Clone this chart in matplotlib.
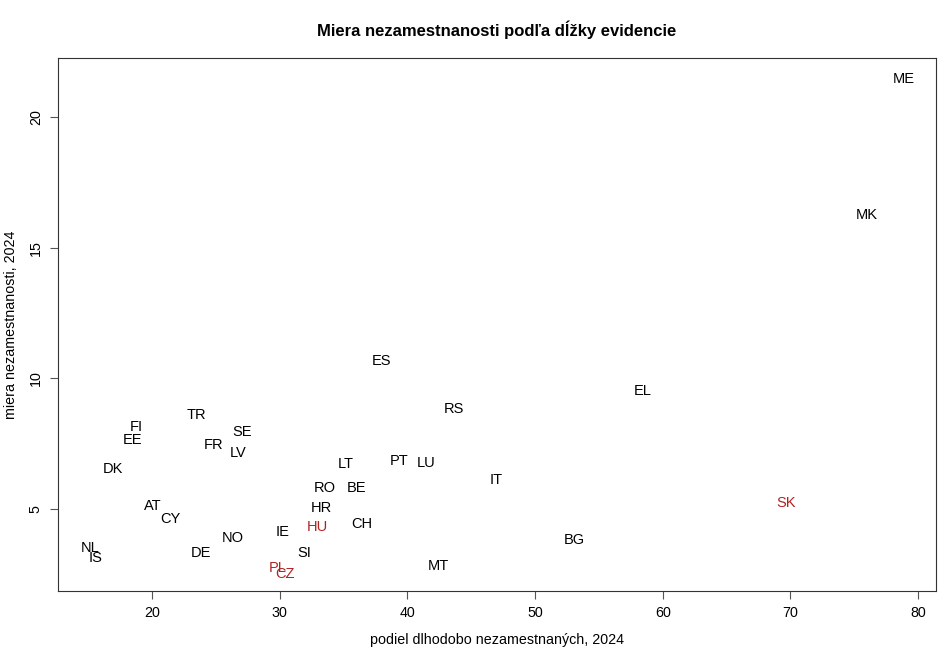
import matplotlib
matplotlib.use("Agg")
import matplotlib.pyplot as plt

plt.rcParams['font.family'] = ['Liberation Sans', 'DejaVu Sans']

# podiel dlhodobo nezamestnaných (x) a miera nezamestnanosti (y), 2024
krajiny = ['ME', 'MK', 'ES', 'EL', 'RS', 'TR', 'SE', 'FI', 'EE', 'FR', 'LV', 'DK',
           'LT', 'PT', 'LU', 'IT', 'RO', 'BE', 'SK', 'AT', 'HR', 'CY', 'CH', 'HU',
           'IE', 'NO', 'BG', 'NL', 'IS', 'DE', 'SI', 'PL', 'CZ', 'MT']
podiel = [78.85, 75.95, 37.95, 58.45, 43.65, 23.45, 27.05, 18.75, 18.45, 24.85, 26.75, 16.95,
          35.15, 39.35, 41.45, 46.95, 33.55, 36.05, 69.65, 20.05, 33.25, 21.45, 36.45, 32.95,
          30.25, 26.35, 53.05, 15.15, 15.55, 23.85, 31.95, 29.85, 30.45, 42.45]
miera = [21.47, 16.25, 10.66, 9.5, 8.81, 8.61, 7.94, 8.13, 7.64, 7.45, 7.14, 6.53,
         6.72, 6.83, 6.76, 6.11, 5.8, 5.8, 5.23, 5.11, 5.03, 4.61, 4.42, 4.31,
         4.12, 3.89, 3.81, 3.5, 3.12, 3.31, 3.31, 2.74, 2.51, 2.81]
zvyraznene = ['SK', 'CZ', 'PL', 'HU']

fig = plt.figure(figsize=(9.5, 6.5), dpi=100)
ax = fig.add_axes([0.0611, 0.0908, 0.9242, 0.82])

for k, x, y in zip(krajiny, podiel, miera):
    farba = '#b22222' if k in zvyraznene else 'black'
    ax.text(x, y, k, ha='center', va='center', fontsize=10.5, color=farba)

ax.set_xlim(12.64, 81.4)
ax.set_ylim(1.86, 22.26)
ax.set_xticks([20, 30, 40, 50, 60, 70, 80])
ax.set_yticks([5, 10, 15, 20])
ax.tick_params(axis='both', direction='out', length=6, color='#555555', labelsize=10.3, pad=5)
for lab in ax.get_yticklabels():
    lab.set_rotation(90)
    lab.set_va('center')

for s in ax.spines.values():
    s.set_color('#333333')
    s.set_linewidth(0.8)

ax.set_xlabel('podiel dlhodobo nezamestnaných, 2024', fontsize=10.3, labelpad=9)
ax.set_ylabel('miera nezamestnanosti, 2024', fontsize=10.3, labelpad=8)
ax.set_title('Miera nezamestnanosti podľa dĺžky evidencie', fontsize=12,
             fontweight='bold', pad=16)

fig.savefig('out.png', dpi=100)
